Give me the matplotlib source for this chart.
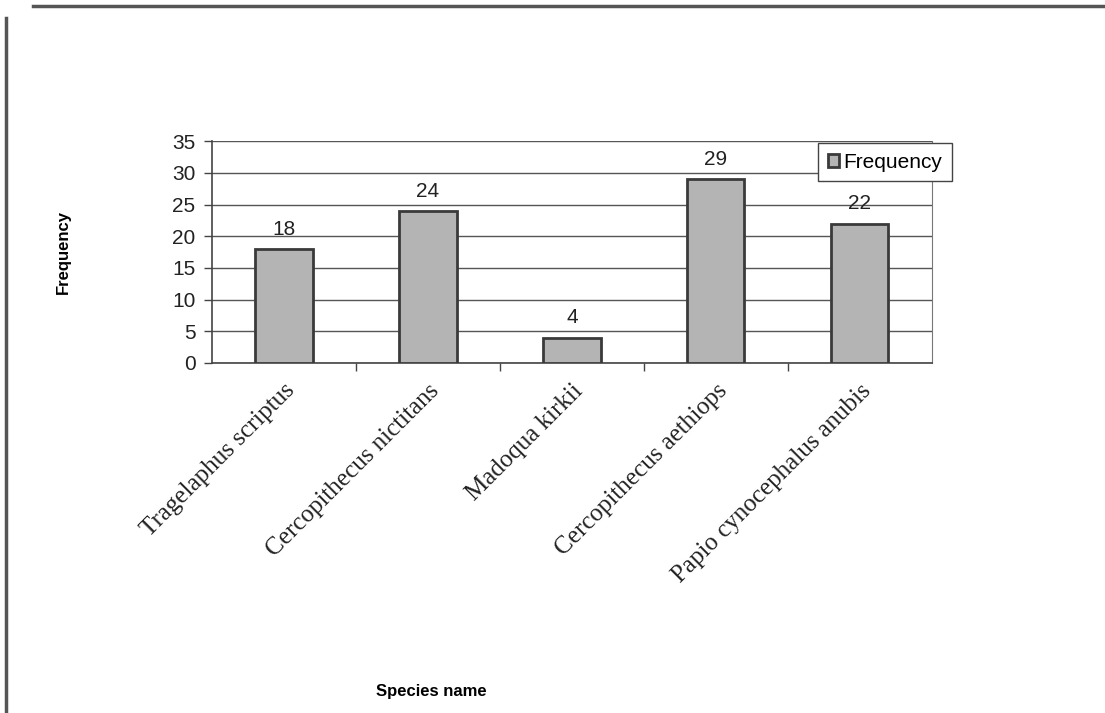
import matplotlib
matplotlib.use("Agg")
import matplotlib.pyplot as plt
from matplotlib.lines import Line2D

species = ["Tragelaphus scriptus", "Cercopithecus nictitans", "Madoqua kirkii",
           "Cercopithecus aethiops", "Papio cynocephalus anubis"]
frequency = [18, 24, 4, 29, 22]
yticks = [0, 5, 10, 15, 20, 25, 30, 35]

fig = plt.figure(figsize=(11.05, 7.13), dpi=100)
ax = fig.add_axes([0.192, 0.491, 0.651, 0.311])

x = list(range(len(species)))
bars = ax.bar(x, frequency, width=0.4, color="#b4b4b4", edgecolor="#3a3a3a",
              linewidth=2, zorder=3, label="Frequency")
for xi, v in zip(x, frequency):
    ax.text(xi, v + 1.6, str(v), ha="center", va="bottom", fontsize=15,
            family="Liberation Sans", color="#222222")

ax.set_xlim(-0.5, len(species) - 0.5)
ax.set_ylim(0, 35)
ax.set_yticks(yticks)
ax.set_yticklabels([str(t) for t in yticks], fontsize=15, family="Liberation Sans", color="#222222")
ax.yaxis.grid(True, color="#555555", linewidth=1, zorder=0)
ax.tick_params(axis="y", direction="out", length=6, width=1, color="#444444", pad=6)

ax.set_xticks(x)
ax.set_xticklabels(species, rotation=45, ha="right", rotation_mode="anchor",
                   fontsize=18, family="Liberation Serif", color="#222222")
ax.tick_params(axis="x", length=0, pad=12)
ax.set_xticks([i + 0.5 for i in range(len(species) - 1)], minor=True)
ax.tick_params(axis="x", which="minor", direction="out", length=6, width=1, color="#444444")

ax.spines["top"].set_visible(False)
ax.spines["right"].set_color("#777777")
ax.spines["left"].set_color("#444444")
ax.spines["bottom"].set_color("#444444")
ax.spines["left"].set_linewidth(1.2)
ax.spines["bottom"].set_linewidth(1.2)

ax.set_ylabel("Frequency", fontsize=12, fontweight="bold", family="Liberation Sans")
ax.yaxis.set_label_coords(-0.197, 0.5)
fig.text(0.39, 0.02, "Species name", fontsize=12, fontweight="bold",
         family="Liberation Sans", ha="center", va="bottom")

leg = ax.legend(loc="upper right", bbox_to_anchor=(1.028, 0.99), frameon=True,
                fancybox=False, prop={"family": "Liberation Sans", "size": 15},
                handlelength=0.55, handleheight=0.55, handletextpad=0.2,
                borderpad=0.45, borderaxespad=0, framealpha=1)
leg.get_frame().set_edgecolor("#444444")
leg.get_frame().set_linewidth(1)
leg.set_zorder(5)

# scanned page frame
fig.add_artist(Line2D([0.03, 1.0], [0.992, 0.992], color="#555555", lw=2.5, transform=fig.transFigure))
fig.add_artist(Line2D([0.005, 0.005], [0.0, 0.975], color="#555555", lw=2.5, transform=fig.transFigure))

fig.savefig("out.png", dpi=100)
